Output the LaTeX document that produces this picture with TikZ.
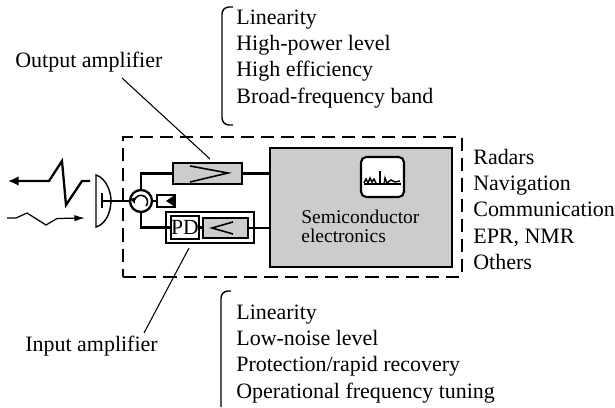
\documentclass[tikz,border=0pt]{standalone}
\usepackage{fontspec}
\setmainfont{Liberation Serif}
\usetikzlibrary{arrows.meta, positioning, calc}

\begin{document}
\begin{tikzpicture}[x=0.02cm, y=-0.02cm, node distance = 0cm,
        wire/.style={draw, line width=1.3pt},
        thin line/.style={draw, line width=0.6pt},
        ampbox/.style={rectangle, draw, line width=1.2pt, fill=black!20, inner sep=0pt},
        plainbox/.style={rectangle, draw, line width=0.7pt, fill=white, inner sep=0pt},
        item/.style={inner sep=0pt, text height=9pt, text depth=5.6pt, font=\fontsize{12.5}{14}\selectfont, anchor=north west},
        caption/.style={inner sep=0pt, font=\fontsize{12.5}{14}\selectfont, anchor=base west},
        unit text/.style={inner sep=0pt, font=\fontsize{11.1}{13}\selectfont, anchor=base west}
    ]
        \useasboundingbox (0,0) rectangle (615,408);
        % Outer block
        \node[rectangle, draw, dash pattern=on 7.5pt off 4pt, line width=0.7pt, minimum width=6.78cm, minimum height=2.8cm, inner sep=0pt] (block) at (292.5,207) {};
        % Main unit
        \node[ampbox, minimum width=3.64cm, minimum height=2.38cm] (unit) at (361,207.5) {};
        \node[rectangle, draw, line width=1.2pt, fill=white, rounded corners=3pt, minimum width=0.86cm, minimum height=0.8cm] (scope) at (382.5,177) {};
        \node[unit text] (semi) at (301,224) {Semiconductor};
        \node[unit text] (elec) at (301,243) {electronics};
        % Amplifiers
        \node[ampbox, minimum width=1.38cm, minimum height=0.42cm] (outamp) at (207.5,173.5) {};
        \node[plainbox, minimum width=1.76cm, minimum height=0.62cm] (inblock) at (210,227.5) {};
        \node[plainbox, minimum width=0.56cm, minimum height=0.46cm, font=\fontsize{12.3}{14}\selectfont] (pd) at (185,227.5) {PD};
        \node[ampbox, minimum width=0.9cm, minimum height=0.4cm] (inamp) at (225.5,228) {};
        % Circulator and load
        \node[circle, draw, line width=1.3pt, fill=white, minimum size=0.44cm, inner sep=0pt] (circ) at (141,201) {};
        \node[plainbox, minimum width=0.36cm, minimum height=0.24cm] (load) at (166,201) {};
        % Antenna
        \coordinate (dishtop) at (96,175);
        \coordinate (dishbot) at (96,227);
        \coordinate (feed) at (102,201);
        % Connections
        \path[wire] (circ) -- (load);
        \path[wire] (circ.north) |- (outamp.west);
        \path[wire] (outamp.east) -- (outamp.east -| unit.west);
        \path[wire] (circ.south) |- (pd.west);
        \path[wire] (pd.east) -- (pd.east -| inamp.west);
        \path[wire] (inamp.east) -- (inamp.east -| unit.west);
        % Symbols
        \draw[line width=0.9pt] (190,166) -- (228,173) -- (190,182);
        \draw[line width=0.9pt] (233,222) -- (212,228) -- (233,234);
        \fill (166,201) -- (175,195) -- (175,207) -- cycle;
        \draw[line width=0.9pt, -{Latex[length=3.5pt,width=3.5pt]}] (146,206) arc[start angle=40, end angle=-200, radius=6.5];
        \draw[line width=0.8pt, fill=white] (dishtop) .. controls (106,178) and (111,192) .. (111,200) .. controls (111,212) and (106,224) .. (dishbot) -- cycle;
        \draw[line width=1.3pt] (102,193) -- (102,208);
        \path[wire] (feed) -- (circ);
        \draw[line width=0.9pt] (364,184) -- (401,184);
        \draw[line width=0.8pt] (364,183) -- (366,179) -- (368,183) -- (370,178) -- (372,182) -- (374,179) -- (376,183);
        \draw[line width=1.4pt] (380,184) -- (380,171);
        \draw[line width=0.8pt] (384,184) -- (385,178) -- (387,183) -- (391,180) -- (395,182) -- (400,181);
        % Signals
        \coordinate (txstart) at (90,181);
        \coordinate (txend) at (8,181);
        \coordinate (rxstart) at (7,218);
        \coordinate (rxend) at (85,218);
        \draw[line width=1.3pt, -{Latex[length=6pt,width=5.5pt]}] (txstart) -- (82,181) -- (66,205) -- (62,161) -- (49,181) -- (txend);
        \draw[line width=0.7pt, -{Latex[length=6pt,width=3.6pt]}] (rxstart) -- (16,218) -- (27,213) -- (46,225) -- (57,218.5) -- (rxend);
        % Upper list
        \node[item] (up1) at (236,8) {Linearity};
        \node[item, below right=0cm and 0cm of up1.south west] (up2) {High-power level};
        \node[item, below right=0cm and 0cm of up2.south west] (up3) {High efficiency};
        \node[item, below right=0cm and 0cm of up3.south west] (up4) {Broad-frequency band};
        % Lower list
        \node[item] (low1) at (236,303) {Linearity};
        \node[item, below right=0cm and 0cm of low1.south west] (low2) {Low-noise level};
        \node[item, below right=0cm and 0cm of low2.south west] (low3) {Protection/rapid recovery};
        \node[item, below right=0cm and 0cm of low3.south west] (low4) {Operational frequency tuning};
        % Applications
        \node[item] (app1) at (473,148) {Radars};
        \node[item, below right=0cm and 0cm of app1.south west] (app2) {Navigation};
        \node[item, below right=0cm and 0cm of app2.south west] (app3) {Communication};
        \node[item, below right=0cm and 0cm of app3.south west] (app4) {EPR, NMR};
        \node[item, below right=0cm and 0cm of app4.south west] (app5) {Others};
        % Brackets
        \draw[line width=0.8pt, rounded corners=4pt] (233,7) -- (222,7) -- (222,125) -- (233,125);
        \draw[line width=0.8pt, rounded corners=4pt] (231,291) -- (221,291) -- (221,407);
        % Captions
        \node[caption] (outcap) at (15,68) {Output amplifier};
        \node[caption] (incap) at (25,352) {Input amplifier};
        \coordinate (outstart) at (122,78);
        \coordinate (outtip) at (210,159);
        \coordinate (instart) at (144,333);
        \coordinate (intip) at (189,248);
        \path[thin line] (outstart) -- (outtip);
        \path[thin line] (instart) -- (intip);
    \end{tikzpicture}
\end{document}
